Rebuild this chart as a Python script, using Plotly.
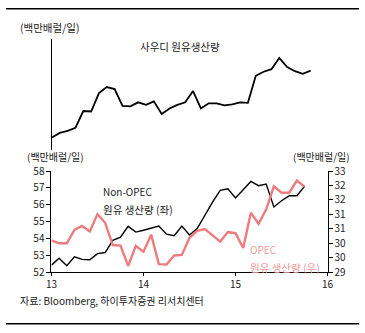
import plotly.graph_objects as go

# Monthly data, Jan 2013 - Oct 2015 (million barrels per day)
months = [13 + i / 12 for i in range(34)]

saudi = [9.00, 9.09, 9.13, 9.19, 9.52, 9.51, 9.87, 9.99, 9.95, 9.62, 9.61, 9.69,
         9.64, 9.71, 9.46, 9.57, 9.64, 9.69, 9.91, 9.57, 9.67, 9.67, 9.63, 9.65,
         9.69, 9.68, 10.21, 10.29, 10.34, 10.56, 10.38, 10.30, 10.25, 10.31]

non_opec = [52.42, 52.83, 52.38, 52.91, 52.76, 52.74, 53.10, 53.17, 53.89, 54.08, 54.72, 54.38,
            54.49, 54.60, 54.74, 54.26, 54.17, 54.74, 54.21, 54.59, 55.40, 56.15, 56.85, 56.95,
            56.40, 56.91, 57.38, 57.13, 57.23, 55.87, 56.24, 56.53, 56.53, 57.09]

opec = [30.10, 30.00, 30.00, 30.46, 30.60, 30.41, 31.01, 30.71, 29.94, 29.92, 29.22, 29.91,
        29.71, 30.30, 29.28, 29.27, 29.58, 29.60, 30.19, 30.43, 30.49, 30.27, 30.06, 30.39,
        30.35, 29.84, 31.06, 30.67, 31.18, 31.97, 31.75, 31.75, 32.17, 31.96]

x_ticks = [13, 14, 15, 16]
x_labels = ["13", "14", "15", "16"]
left_ticks = [52, 53, 54, 55, 56, 57, 58]
right_ticks = [29, 29.5, 30, 30.5, 31, 31.5, 32, 32.5]
right_labels = ["29", "30", "30", "31", "31", "32", "32", "33"]

W, H = 365, 333
FONT = "Noto Sans CJK KR"
PINK = "#f07b7e"
PINK_TEXT = "#f49a9c"
TXT = "#222222"


def px(x):
    return x / W


def py(y):
    return 1 - y / H


fig = go.Figure()

fig.add_trace(go.Scatter(x=months, y=saudi, mode="lines", xaxis="x2", yaxis="y3",
                         line=dict(color="black", width=1.8), showlegend=False))
fig.add_trace(go.Scatter(x=months, y=opec, mode="lines", xaxis="x", yaxis="y2",
                         line=dict(color=PINK, width=2.4), showlegend=False))
fig.add_trace(go.Scatter(x=months, y=non_opec, mode="lines", xaxis="x", yaxis="y",
                         line=dict(color="black", width=1.4), showlegend=False))

tick_font = dict(family=FONT, size=10, color=TXT)

# The upper panel spans slightly wider per month than the lower one
top_px_per_year = 97.27
top_x_end = 13 + 285 / top_px_per_year

fig.update_layout(
    width=W, height=H,
    margin=dict(l=0, r=0, t=0, b=0),
    paper_bgcolor="white", plot_bgcolor="white",
    font=dict(family=FONT, size=10, color=TXT),
    xaxis=dict(domain=[px(47), px(332.5)], range=[13, 16], anchor="y",
               tickvals=x_ticks, ticktext=x_labels, ticks="outside", ticklen=3,
               tickcolor="black", showline=True, linecolor="black", linewidth=1,
               showgrid=False, zeroline=False, tickfont=tick_font),
    yaxis=dict(domain=[py(276.7), py(170.7)], range=[52, 58], anchor="x",
               tickvals=left_ticks, ticks="outside", ticklen=4, tickcolor="black",
               showline=True, linecolor="black", linewidth=1,
               showgrid=False, zeroline=False, tickfont=tick_font),
    yaxis2=dict(overlaying="y", side="right", range=[29, 32.5], anchor="x",
                tickvals=right_ticks, ticktext=right_labels, ticks="outside",
                ticklen=4, tickcolor="black", showline=True, linecolor="black",
                linewidth=1, showgrid=False, zeroline=False, tickfont=tick_font),
    xaxis2=dict(domain=[px(47.5), px(332.5)], range=[13, top_x_end],
                anchor="y3", visible=False),
    yaxis3=dict(domain=[py(149), py(32)], range=[8.75, 10.94], anchor="x2",
                showline=True, linecolor="black", linewidth=1.2,
                showticklabels=False, ticks="", showgrid=False, zeroline=False),
)

# Horizontal rules framing the panel
for yy in (0.8, 330.7):
    fig.add_shape(type="line", xref="paper", yref="paper", x0=0, x1=1,
                  y0=py(yy), y1=py(yy), line=dict(color="black", width=1.5))


def label(text, x, y, color=TXT, size=10.5, xanchor="left"):
    fig.add_annotation(text=text, x=px(x), y=py(y), xref="paper", yref="paper",
                       xanchor=xanchor, yanchor="middle", showarrow=False,
                       font=dict(family=FONT, size=size, color=color))


label("(백만배럴/일)", 12, 20.5)
label("사우디 원유생산량", 180, 40, xanchor="center")
label("(백만배럴/일)", 20, 155, size=10)
label("(백만배럴/일)", 358, 155, size=10, xanchor="right")
label("Non-OPEC", 98, 192, size=10)
label("원유 생산량 (좌)", 98, 211)
label("OPEC", 250, 253, color=PINK_TEXT, size=10)
label("원유 생산량 (우)", 250, 271.5, color=PINK_TEXT)
label("자료: Bloomberg, 하이투자증권 리서치센터", 12, 306, size=10)

fig.write_html("out.html")
